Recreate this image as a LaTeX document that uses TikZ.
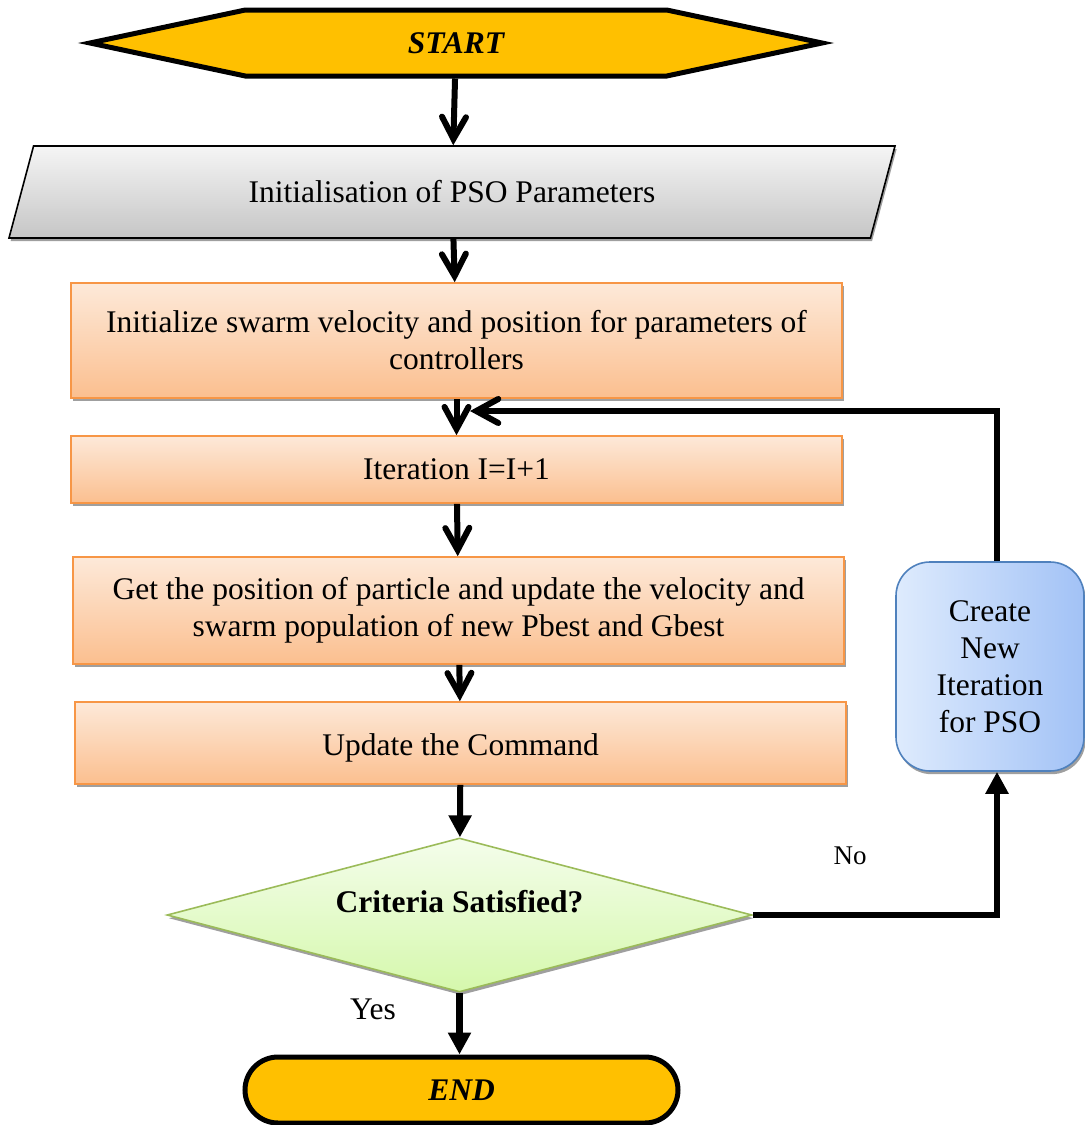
\documentclass[tikz,border=0pt]{standalone}
\usepackage{fontspec}
\setmainfont{Liberation Serif}
\usetikzlibrary{shapes.geometric,shapes.symbols,shapes.misc,arrows.meta,shadows}

\definecolor{termgold}{HTML}{FFC000}
\definecolor{procline}{HTML}{F79646}
\definecolor{proctop}{HTML}{FDE9D9}
\definecolor{procbot}{HTML}{FBBF8F}
\definecolor{decline}{HTML}{9BBB59}
\definecolor{dectop}{HTML}{F4FDEB}
\definecolor{decbot}{HTML}{D5F8AC}
\definecolor{loopline}{HTML}{4F81BD}
\definecolor{loopleft}{HTML}{DEEBFD}
\definecolor{loopright}{HTML}{A2C2F6}

\begin{document}
\begin{tikzpicture}[x=0.5pt, y=-0.5pt,
  font=\fontsize{15.75}{18.5}\selectfont,
  every node/.style={inner sep=0pt},
  greyshadow/.style={drop shadow={shadow xshift=0.8pt, shadow yshift=-1.6pt, fill=gray!75, opacity=1}},
  terminal/.style={draw=black, line width=2.5pt, fill=termgold, font=\fontsize{15.75}{18.5}\selectfont\bfseries\itshape},
  procbox/.style={draw=procline, line width=0.8pt, top color=proctop, bottom color=procbot, minimum width=385.5pt, align=center, greyshadow},
  barb/.style={line width=3pt, -{Straight Barb[length=11pt, width=12pt, line cap=round]}},
  tri/.style={line width=3pt, -{Triangle[length=11pt, width=11pt]}}]
\useasboundingbox (0,0) rectangle (1085,1125);

\node[terminal, signal, signal to=west and east, signal pointer angle=24, minimum width=366pt, minimum height=33pt] (start) at (456,43) {START};
\node[draw, line width=0.8pt, trapezium, trapezium left angle=74, trapezium right angle=106, trapezium stretches body, inner ysep=15.8pt, minimum width=443pt, minimum height=46pt, top color=gray!8, bottom color=gray!45, greyshadow] (init) at (452,192) {Initialisation of PSO Parameters};
\node[procbox, minimum height=57.5pt] (swarm) at (456.5,340.5) {Initialize swarm velocity and position for parameters of\\controllers};
\node[procbox, minimum height=33.5pt] (iter) at (456.5,469.5) {Iteration I=I+1};
\node[procbox, minimum height=53.5pt] (getpos) at (458.5,610.5) {Get the position of particle and update the velocity and\\swarm population of new Pbest and Gbest};
\node[procbox, minimum height=41pt] (update) at (460.5,743) {\raisebox{-6.2pt}[0pt][0pt]{Update the Command}};
\node[diamond, aspect=3.8, draw=decline, line width=0.8pt, top color=dectop, bottom color=decbot, minimum width=292.5pt, minimum height=77pt, font=\fontsize{15.75}{18.5}\selectfont\bfseries, greyshadow] (crit) at (459.5,915) {\raisebox{1.3pt}[0pt][0pt]{Criteria Satisfied?}};
\node[rounded corners=17pt, draw=loopline, line width=0.8pt, left color=loopleft, right color=loopright, minimum width=94pt, minimum height=104.5pt, align=center, greyshadow] (create) at (990,666.5) {Create\\New\\Iteration\\for PSO};
\node[terminal, rounded rectangle, minimum width=216.5pt, minimum height=33pt] (finish) at (461.5,1090) {END};
\node (no) at (850,856) {\fontsize{13.5}{16}\selectfont No};
\node (yes) at (373,1009) {Yes};
\coordinate (loopin) at (470,411);

\draw[barb] (start) -- (init);
\draw[barb] (init) -- (swarm);
\draw[barb] (swarm) -- (iter);
\draw[barb] (iter) -- (getpos);
\draw[barb] (getpos) -- (update);
\draw[tri] (update) -- (crit);
\draw[tri, line width=3.5pt] (crit.south) -- (crit.south |- finish.north);
\draw[tri] (crit.east) -| ([xshift=3.5pt]create.south);
\draw[barb] ([xshift=3.5pt]create.north) |- (loopin);
\end{tikzpicture}
\end{document}
